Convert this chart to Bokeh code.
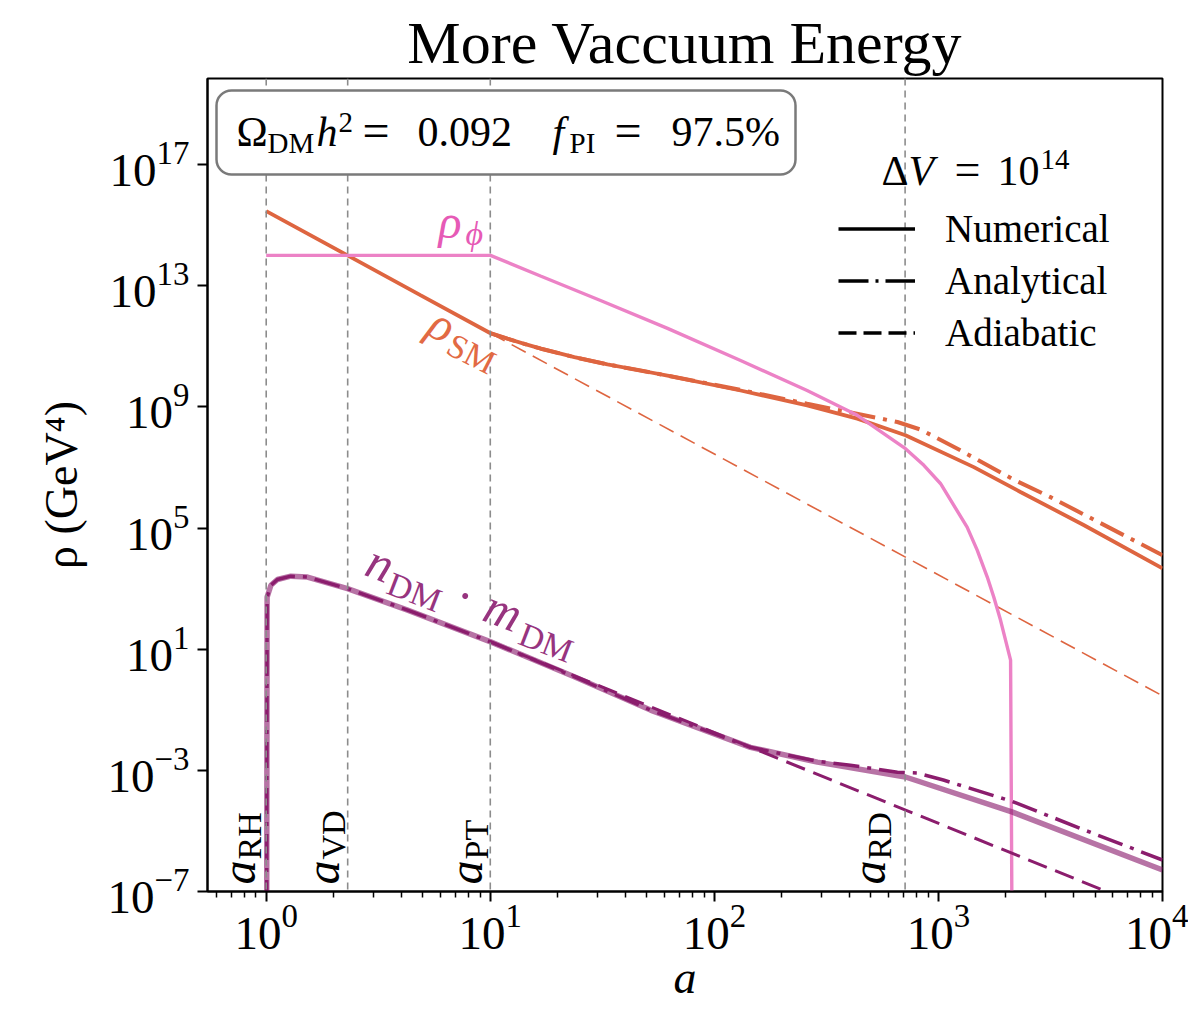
import math
from bokeh.plotting import figure
from bokeh.models import FixedTicker, Span, Label, Legend, LegendItem, BoxAnnotation
from bokeh.embed import file_html
from bokeh.resources import INLINE

# ---------------- data (log10 values) ----------------
# Standard-model energy density, numerical
log_a_sm = [0.0, 0.363, 0.690, 1.001, 1.077, 1.152, 1.226, 1.375, 1.523, 1.670, 1.791,
            2.117, 2.414, 2.638, 2.853, 3.158, 3.366, 3.648, 4.0]
log_rho_sm = [15.46, 14.0, 12.68, 11.43, 11.25, 11.08, 10.92, 10.64, 10.40, 10.20, 10.03,
              9.54, 9.05, 8.61, 8.06, 7.01, 6.19, 5.10, 3.67]
# Standard-model, analytical
log_a_sm_an = [1.001, 1.077, 1.152, 1.226, 1.375, 1.523, 1.670, 1.791, 2.117, 2.414, 2.563,
               2.817, 2.92, 3.099, 3.335, 3.5, 4.0]
log_rho_sm_an = [11.43, 11.25, 11.08, 10.92, 10.64, 10.40, 10.20, 10.03, 9.56, 9.10, 8.88,
                 8.50, 8.25, 7.56, 6.60, 6.02, 4.10]
# Standard-model, adiabatic
log_a_sm_ad = [1.001, 4.0]
log_rho_sm_ad = [11.43, -0.54]
# scalar field rho_phi
log_a_phi = [0.0, 1.001, 1.224, 1.492, 1.791, 2.117, 2.414, 2.638, 2.853, 2.935, 3.009,
             3.128, 3.173, 3.218, 3.247, 3.277, 3.322, 3.329]
log_rho_phi = [14.0, 14.0, 13.32, 12.51, 11.59, 10.53, 9.54, 8.72, 7.62, 7.07, 6.47,
               5.03, 4.27, 3.38, 2.72, 1.96, 0.64, -9.0]
# dark matter n*m, numerical
log_a_dm = [0.002, 0.004, 0.021, 0.050, 0.110, 0.184, 0.363, 0.631, 1.002, 1.375, 1.715,
            2.161, 2.460, 2.853, 3.331, 4.0]
log_rho_dm = [-9.0, 2.72, 3.11, 3.30, 3.41, 3.38, 3.0, 2.29, 1.24, 0.09, -1.01,
              -2.24, -2.73, -3.22, -4.38, -6.29]
# dark matter, analytical
log_a_dm_an = [0.002, 0.004, 0.021, 0.050, 0.110, 0.184, 0.363, 0.631, 1.002, 1.375, 1.715,
               2.161, 2.460, 2.607, 2.817, 2.906, 3.022, 3.331, 3.648, 4.0]
log_rho_dm_an = [-9.0, 2.72, 3.11, 3.30, 3.41, 3.38, 3.0, 2.29, 1.24, 0.09, -1.01,
                 -2.24, -2.70, -2.83, -3.06, -3.09, -3.32, -4.03, -4.96, -5.96]
# dark matter, adiabatic
log_a_dm_ad = [1.002, 4.0]
log_rho_dm_ad = [1.24, -7.75]

# characteristic scale factors
a_marks = [1.0, 2.31, 10.0, 710.0]
a_mark_subs = ["RH", "VD", "PT", "RD"]

x_major = [1, 10, 100, 1000, 10000]
x_minor = [m * 10 ** k for k in range(-1, 4) for m in range(2, 10) if 0.54 < m * 10 ** k < 10000]
y_major = [1e-7, 1e-3, 1e1, 1e5, 1e9, 1e13, 1e17]

omega_txt = "0.092"
fpi_txt = "97.5%"
legend_labels = ["Numerical", "Analytical", "Adiabatic"]

# ---------------- styling ----------------
W, H = 1188, 1012
FL, FR, FT, FB = 207, 1162, 78, 891
LX0, LX1 = -0.262, 4.0
LY0, LY1 = -7.0, 19.84
SERIF = "Liberation Serif"
BASE_FIX = 0.36   # empirical shift of the alphabetic baseline (in em)

C_SM = "#DE6540"
C_PHI = "#EC82C6"
C_DM = "#8B1D6D"
C_GREY = "#8c8c8c"


def px2x(px):
    return 10 ** (LX0 + (px - FL) / (FR - FL) * (LX1 - LX0))


def py2y(py):
    return 10 ** (LY1 - (py - FT) / (FB - FT) * (LY1 - LY0))


def lin(v):
    return [10 ** t for t in v]


p = figure(width=W, height=H, x_axis_type="log", y_axis_type="log",
           x_range=(10 ** LX0, 10 ** LX1), y_range=(10 ** LY0, 10 ** LY1),
           output_backend="svg", toolbar_location=None,
           min_border_left=FL, min_border_right=W - FR,
           min_border_top=FT, min_border_bottom=H - FB)

p.background_fill_color = "white"
p.border_fill_color = "white"
p.grid.visible = False
p.outline_line_color = "black"
p.outline_line_width = 2
p.outline_line_alpha = 1.0

p.title.text = "More Vaccuum Energy"
p.title.text_font = SERIF
p.title.text_font_size = "60px"
p.title.text_font_style = "normal"
p.title.text_color = "black"
p.title.align = "center"
p.title.standoff = 6

for ax in (p.xaxis[0], p.yaxis[0]):
    ax.axis_line_width = 2
    ax.major_tick_line_width = 2
    ax.major_tick_out = 10
    ax.major_tick_in = 0
    ax.minor_tick_line_width = 1.5
    ax.minor_tick_out = 6
    ax.minor_tick_in = 0
    ax.major_label_text_font = SERIF
    ax.major_label_text_font_size = "47px"
    ax.major_label_text_color = "black"
    ax.axis_label_text_color = "black"
    ax.axis_label_text_font = SERIF

p.xaxis.ticker = FixedTicker(ticks=x_major, minor_ticks=x_minor)
p.yaxis.ticker = FixedTicker(ticks=y_major, minor_ticks=[])
p.xaxis.major_label_standoff = 4
p.yaxis.major_label_standoff = 8
p.xaxis.axis_label = "a"
p.xaxis.axis_label_text_font_size = "46px"
p.xaxis.axis_label_text_font_style = "italic"
p.xaxis.axis_label_standoff = 0
p.yaxis.axis_label = "ρ (GeV⁴)"
p.yaxis.axis_label_text_font_size = "46px"
p.yaxis.axis_label_text_font_style = "normal"
p.yaxis.axis_label_standoff = 18

# vertical reference lines
for a in a_marks:
    p.add_layout(Span(location=a, dimension="height", line_color=C_GREY,
                      line_dash="7 5", line_width=1.6))

# ---------------- curves ----------------
p.line(lin(log_a_sm_ad), lin(log_rho_sm_ad), line_color=C_SM, line_width=1.6, line_dash="16 8")
p.line(lin(log_a_sm_an), lin(log_rho_sm_an), line_color=C_SM, line_width=4, line_dash="26 8 4 8")
p.line(lin(log_a_sm), lin(log_rho_sm), line_color=C_SM, line_width=3.8)
p.line(lin(log_a_phi), lin(log_rho_phi), line_color=C_PHI, line_width=3.4)
p.line(lin(log_a_dm_ad), lin(log_rho_dm_ad), line_color=C_DM, line_width=3, line_dash="20 9")
p.line(lin(log_a_dm_an), lin(log_rho_dm_an), line_color=C_DM, line_width=3.5, line_dash="26 8 4 8")
p.line(lin(log_a_dm), lin(log_rho_dm), line_color=C_DM, line_width=5.5, line_alpha=0.62)

# ---------------- legend (key renderers sit outside the visible range) ----------------
key_x = [1e-3, 2e-3]
key_y = [1e-12, 1e-12]
r_num = p.line(key_x, key_y, line_color="black", line_width=3.5)
r_an = p.line(key_x, key_y, line_color="black", line_width=3.5, line_dash="30 7 3 7")
r_ad = p.line(key_x, key_y, line_color="black", line_width=3.5, line_dash="18 7")
legend = Legend(items=[LegendItem(label=legend_labels[0], renderers=[r_num]),
                       LegendItem(label=legend_labels[1], renderers=[r_an]),
                       LegendItem(label=legend_labels[2], renderers=[r_ad])],
                location=(838 - FL, FB - 355))
legend.label_text_font = SERIF
legend.label_text_font_size = "39px"
legend.label_text_color = "black"
legend.glyph_width = 77
legend.glyph_height = 45
legend.label_height = 45
legend.label_standoff = 30
legend.spacing = 7
legend.padding = 0
legend.margin = 0
legend.border_line_alpha = 0
legend.background_fill_alpha = 0
p.add_layout(legend)


# ---------------- text helpers ----------------
def compose(px, py, deg, pieces):
    th = math.radians(deg)
    ux, uy = math.cos(th), -math.sin(th)
    nx, ny = math.sin(th), math.cos(th)
    for text, size, dx, dy, style, color in pieces:
        d = dy - BASE_FIX * size
        sx = px + dx * ux + d * nx
        sy = py + dx * uy + d * ny
        p.add_layout(Label(x=px2x(sx), y=py2y(sy), text=text, angle=th,
                           text_font=SERIF, text_font_size=f"{size}px",
                           text_font_style=style, text_color=color,
                           text_align="left", text_baseline="alphabetic"))


# info box
p.add_layout(BoxAnnotation(left=px2x(216), right=px2x(795), top=py2y(90), bottom=py2y(174),
                           fill_color="white", fill_alpha=1.0, line_color="#7a7a7a",
                           line_alpha=1.0, line_width=2.5, border_radius=15))
compose(236, 147, 0, [("Ω", 42, 0, 0, "normal", "black"),
                      ("DM", 29, 31, 6, "normal", "black"),
                      ("h", 42, 80, 0, "italic", "black"),
                      ("2", 29, 102, -15, "normal", "black"),
                      ("=", 48, 126, 0, "normal", "black"),
                      (omega_txt, 42, 181, 0, "normal", "black"),
                      ("f", 42, 316, 0, "italic", "black"),
                      ("PI", 29, 333, 6, "normal", "black"),
                      ("=", 48, 378, 0, "normal", "black"),
                      (fpi_txt, 42, 435, 0, "normal", "black")])

# legend title
compose(881, 186, 0, [("Δ", 42, 0, 0, "normal", "black"),
                      ("V", 42, 27, 0, "italic", "black"),
                      ("=", 46, 73, 0, "normal", "black"),
                      ("10", 42, 116, 0, "normal", "black"),
                      ("14", 29, 159, -17, "normal", "black")])

# curve labels
compose(438, 238, 0, [("ρ", 48, 0, 0, "italic", "#E65AB6"),
                      ("ϕ", 34, 27, 7, "italic", "#E65AB6")])
compose(424, 334, -27, [("ρ", 48, 0, 0, "italic", "#E26A44"),
                        ("SM", 34, 26, 8, "normal", "#E26A44")])
compose(362, 575, -21, [("n", 50, 0, 0, "italic", "#97347F"),
                        ("DM", 34, 27, 9, "normal", "#97347F"),
                        ("·", 50, 95, 0, "normal", "#97347F"),
                        ("m", 50, 126, 0, "italic", "#97347F"),
                        ("DM", 34, 168, 9, "normal", "#97347F")])

# a_XX labels rotated
mark_px = [255, 339, 482, 885]
for mpx, sub in zip(mark_px, a_mark_subs):
    compose(mpx, 884, 90, [("a", 48, 0, 0, "italic", "black"),
                           (sub, 34, 25, 6, "normal", "black")])

open("out.html", "w").write(file_html(p, INLINE))
